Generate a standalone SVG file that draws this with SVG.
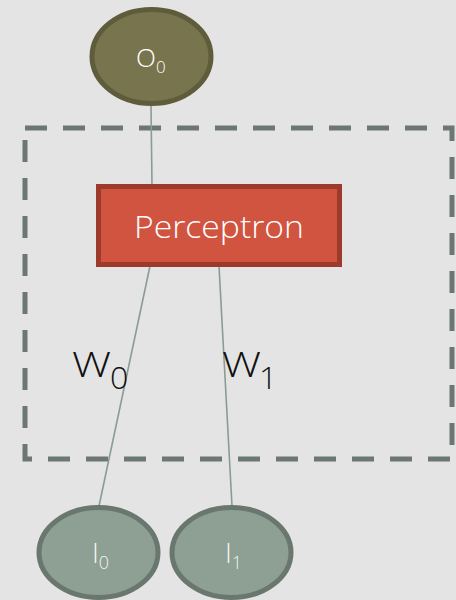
<svg xmlns="http://www.w3.org/2000/svg" width="456" height="600" viewBox="0 0 456 600">
<style>
.bg{fill:#e4e4e4}
.link{stroke:#8a9d93;stroke-width:1.6;fill:none}
.lbl{font-family:"Open Sans","DejaVu Sans",sans-serif;fill:#ffffff;font-weight:300}
.w{font-family:"Open Sans","DejaVu Sans",sans-serif;fill:#111111;font-weight:300}
.inp{fill:#8e9f94;stroke:#6a776e;stroke-width:5}
</style>
<rect class="bg" x="0" y="0" width="456" height="600"/>
<rect x="25" y="128" width="427" height="331" fill="none" stroke="#6b7770" stroke-width="5" stroke-dasharray="22 16"/>
<g id="connectors">
<line class="link" x1="151" y1="106" x2="152" y2="186"/>
<line class="link" x1="150" y1="266" x2="99" y2="506"/>
<line class="link" x1="219" y1="266" x2="232" y2="506"/>
</g>
<g id="O0">
<ellipse cx="151.5" cy="56.5" rx="59.5" ry="47" fill="#77744e" stroke="#5f5c3c" stroke-width="5"/>
<text class="lbl" x="136" y="67" font-size="26">O<tspan font-size="17" dy="6">0</tspan></text>
</g>
<g id="perceptron">
<rect x="98.5" y="186.5" width="241" height="78" fill="#d0543f" stroke="#9e3a2c" stroke-width="5"/>
<text class="lbl" x="219" y="238" font-size="31" text-anchor="middle" textLength="170" lengthAdjust="spacingAndGlyphs">Perceptron</text>
</g>
<g id="labels">
<text class="w" x="72" y="377" font-size="35" textLength="39" lengthAdjust="spacingAndGlyphs">W</text>
<text class="w" x="110" y="389" font-size="32">0</text>
<text class="w" x="222" y="377" font-size="35" textLength="39" lengthAdjust="spacingAndGlyphs">W</text>
<text class="w" x="259" y="389" font-size="32">1</text>
</g>
<g id="I0">
<ellipse class="inp" cx="98.5" cy="552.5" rx="59.5" ry="45"/>
<text class="lbl" x="92" y="563" font-size="27" fill-opacity="0.9">I<tspan font-size="18" dy="6">0</tspan></text>
</g>
<g id="I1">
<ellipse class="inp" cx="231.5" cy="552.5" rx="59.5" ry="45"/>
<text class="lbl" x="225" y="563" font-size="27" fill-opacity="0.9">I<tspan font-size="18" dy="6">1</tspan></text>
</g>
</svg>
